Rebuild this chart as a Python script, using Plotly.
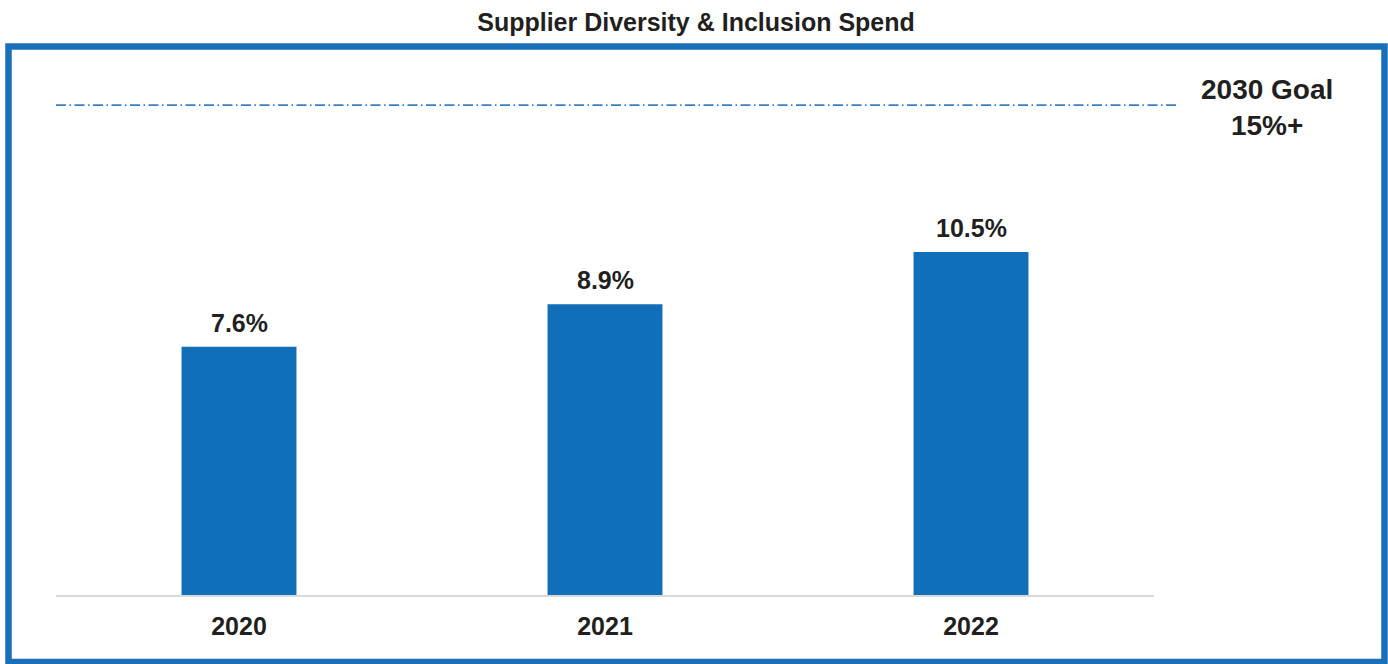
import plotly.graph_objects as go

# Data
years = ["2020", "2021", "2022"]
spend_pct = [7.6, 8.9, 10.5]
goal_pct = 15
goal_label = ["2030 Goal", "15%+"]

BAR_BLUE = "#116eb8"
FRAME_BLUE = "#1a70b8"
GOAL_BLUE = "#3b7fc2"
TEXT = "#231f20"
FONT = "Liberation Sans, Arial, sans-serif"

W, H = 1388, 664
L, R, T, B = 56, 234, 60, 69
plot_w = W - L - R
plot_h = H - T - B


def px_x(px):
    return (px - L) / plot_w


def px_y(py):
    return (H - B - py) / plot_h


fig = go.Figure()

fig.add_trace(go.Bar(
    x=years,
    y=spend_pct,
    marker=dict(color=BAR_BLUE, line=dict(width=0)),
    width=0.314,
    hoverinfo="skip",
))

# value labels above each bar (category index positions)
for i, v in enumerate(spend_pct):
    fig.add_annotation(
        x=i, y=v, xref="x", yref="y",
        text=f"<b>{v:.1f}%</b>",
        showarrow=False, yanchor="bottom", yshift=8,
        font=dict(family=FONT, size=25, color=TEXT),
    )

# goal reference line
fig.add_shape(
    type="line", xref="paper", yref="y",
    x0=0, x1=px_x(1178), y0=goal_pct, y1=goal_pct,
    line=dict(color=GOAL_BLUE, width=1.6, dash="10px,3.5px,1.5px,3.5px"),
)

fig.add_annotation(
    x=px_x(1267), y=px_y(107), xref="paper", yref="paper",
    text="<br>".join(f"<b>{s}</b>" for s in goal_label),
    showarrow=False, xanchor="center", yanchor="middle", align="center",
    font=dict(family=FONT, size=28, color=TEXT),
)

# outer frame
fig.add_shape(
    type="rect", xref="paper", yref="paper",
    x0=px_x(8.5), x1=px_x(1384.5), y0=px_y(662), y1=px_y(46.5),
    line=dict(color=FRAME_BLUE, width=6.5),
    fillcolor="rgba(0,0,0,0)",
)

fig.update_layout(
    width=W, height=H,
    margin=dict(l=L, r=R, t=T, b=B),
    paper_bgcolor="white",
    plot_bgcolor="white",
    showlegend=False,
    title=dict(
        text="<b>Supplier Diversity & Inclusion Spend</b>",
        x=696 / W, xanchor="center",
        y=1 - 22 / H, yanchor="middle", yref="container",
        font=dict(family=FONT, size=25, color=TEXT),
    ),
    xaxis=dict(
        type="category",
        showgrid=False, zeroline=False,
        showline=True, linecolor="#d9d9d9", linewidth=2,
        ticks="", ticklabelstandoff=8,
        tickfont=dict(family=FONT, size=25, color=TEXT),
        tickprefix="<b>", ticksuffix="</b>",
        range=[-0.5, 2.5],
    ),
    yaxis=dict(
        range=[0, plot_h / 32.66],
        showgrid=False, zeroline=False, showline=False,
        showticklabels=False, ticks="",
    ),
)

fig.write_html("out.html")
